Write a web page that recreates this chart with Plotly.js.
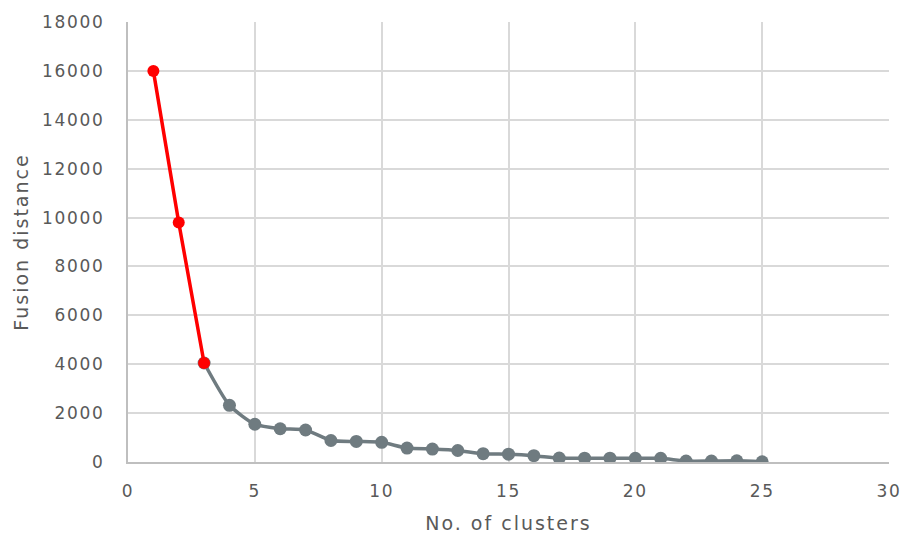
<!DOCTYPE html>
<html>
<head>
<meta charset="utf-8">
<script src="https://cdn.plot.ly/plotly-3.0.1.min.js"></script>
<style>
html,body{margin:0;padding:0;background:#fff;}
#chart{width:907px;height:535px;}
#chart .xtick text, #chart .ytick text{letter-spacing:1.7px;}
#chart .g-xtitle text, #chart .g-ytitle text{letter-spacing:2px;}
</style>
</head>
<body>
<div id="chart"></div>
<script>
const clusters = [1,2,3,4,5,6,7,8,9,10,11,12,13,14,15,16,17,18,19,20,21,22,23,24,25];
const fusionDistance = [16000,9800,4050,2320,1545,1360,1310,880,840,805,570,530,470,340,320,260,160,155,155,150,150,40,40,50,10];
const redCount = 3;
const xTicks = [0,5,10,15,20,25,30];
const yTicks = [0,2000,4000,6000,8000,10000,12000,14000,16000,18000];

const grayX = clusters.slice(redCount-1), grayY = fusionDistance.slice(redCount-1);
const redX = clusters.slice(0, redCount), redY = fusionDistance.slice(0, redCount);

const traces = [
  {x: grayX, y: grayY, mode: 'lines+markers', line: {color: '#6f7b80', width: 3.5, shape: 'spline', smoothing: 0.6},
   marker: {color: '#6f7b80', size: 13}, showlegend: false},
  {x: redX, y: redY, mode: 'lines+markers', line: {color: '#ff0000', width: 3.5, shape: 'spline', smoothing: 0.6},
   marker: {color: '#ff0000', size: 12}, showlegend: false}
];

const fam = 'Verdana, "DejaVu Sans", sans-serif';
const layout = {
  width: 907, height: 535,
  margin: {l: 128, r: 18, t: 22, b: 73},
  paper_bgcolor: '#fff', plot_bgcolor: '#fff',
  font: {family: fam, size: 15, color: '#595959'},
  xaxis: {range: [0, 30], tickvals: xTicks, ticktext: xTicks.map(String), showgrid: true, gridcolor: '#d9d9d9', gridwidth: 2,
          showline: true, linecolor: '#bfbfbf', linewidth: 2, zeroline: false, ticks: '', ticklen: 0,
          ticklabelstandoff: 13,
          tickfont: {family: fam, size: 17, color: '#595959'},
          title: {text: 'No. of clusters', font: {family: fam, size: 19, color: '#595959'}, standoff: 16}},
  yaxis: {range: [0, 18000], tickvals: yTicks, ticktext: yTicks.map(String), showgrid: true, gridcolor: '#d9d9d9', gridwidth: 2,
          showline: true, linecolor: '#bfbfbf', linewidth: 2, zeroline: false, ticks: '', ticklen: 0,
          ticklabelstandoff: 18,
          tickfont: {family: fam, size: 17, color: '#595959'},
          title: {text: 'Fusion distance', font: {family: fam, size: 19, color: '#595959'}, standoff: 17}}
};
Plotly.newPlot('chart', traces, layout, {displayModeBar: false, staticPlot: true});
</script>
</body>
</html>
